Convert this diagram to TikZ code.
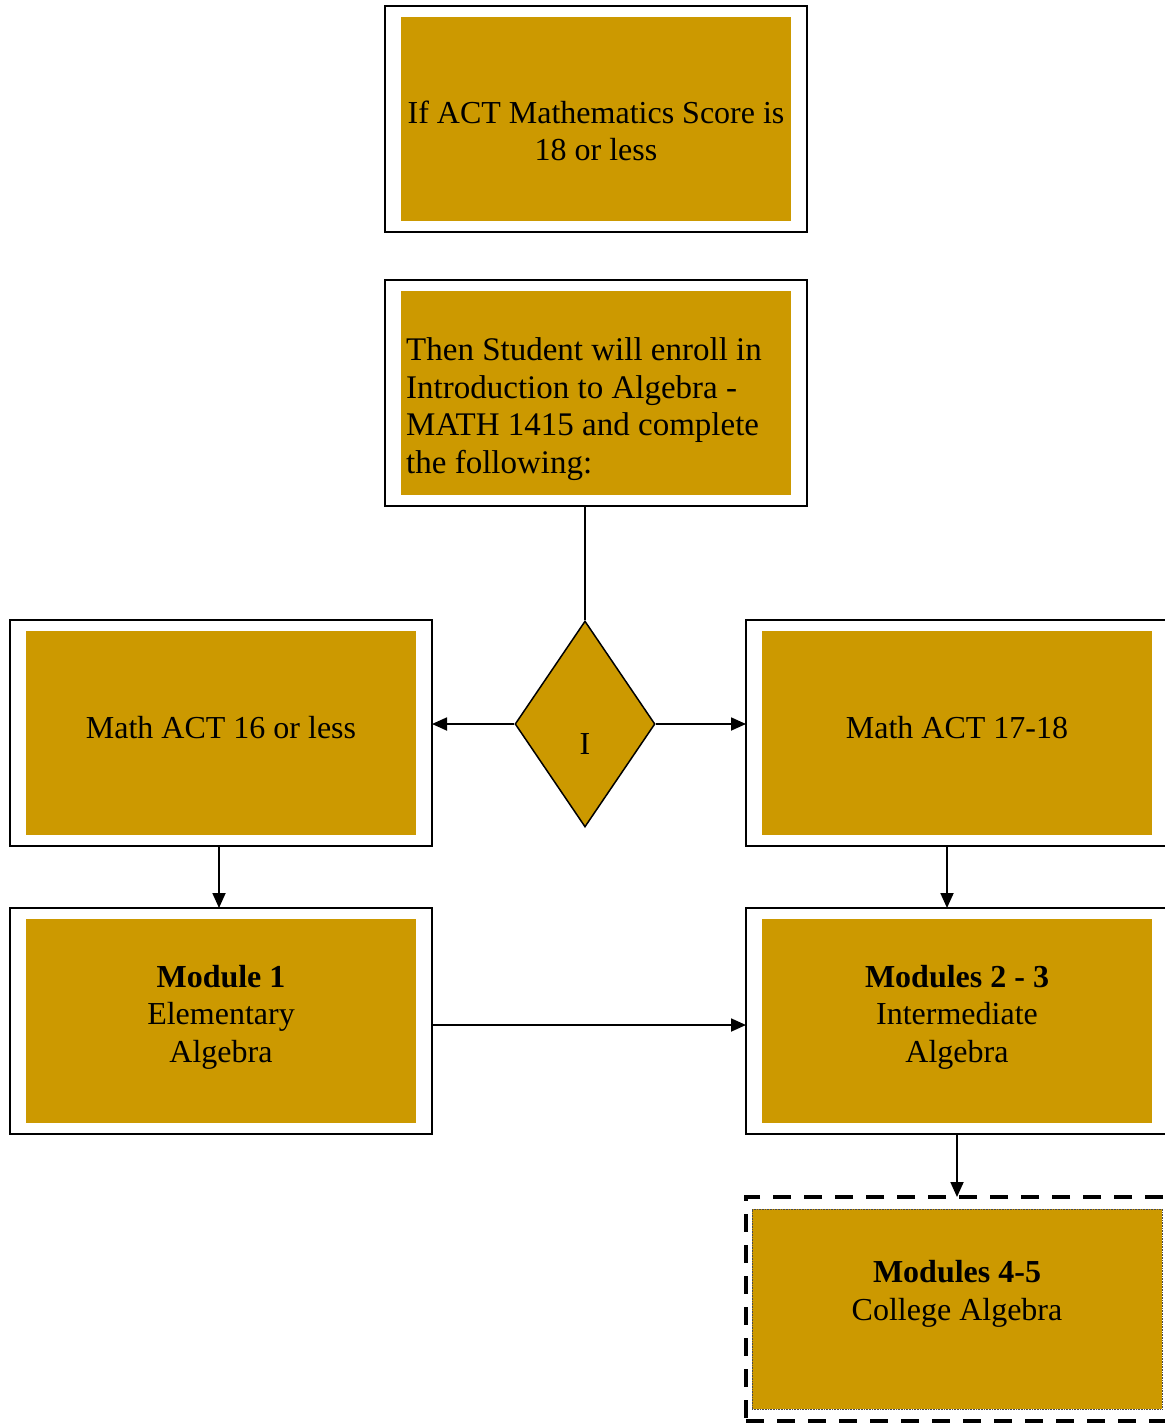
\documentclass[tikz,border=0pt]{standalone}
\usepackage{fontspec}
\setmainfont{Liberation Serif}
\usetikzlibrary{shapes.geometric,arrows.meta}
\definecolor{gold}{HTML}{CC9900}
\newcommand{\fs}{\fontsize{32pt}{37.5pt}\selectfont}
\tikzset{
  frame/.style={draw=black, line width=1.8pt, minimum width=422pt, minimum height=226pt, inner sep=0pt, outer sep=0pt},
  fillbox/.style={fill=gold, minimum width=390pt, minimum height=204pt, inner sep=0pt, outer sep=0pt},
  txt/.style={font=\fs, align=center, inner sep=0pt},
  arr/.style={line width=1.8pt, -{Triangle[length=15pt,width=13pt]}},
  conn/.style={line width=1.8pt},
}
\begin{document}
\begin{tikzpicture}[x=1pt,y=-1pt]
\useasboundingbox[fill=white] (0,0) rectangle (1164,1423);
% top
\node[frame] (f1) at (596,119) {};
\node[fillbox] (b1) at (596,119) {};
\node[txt] (t1) at (596,131) {If ACT Mathematics Score is\\18 or less};
% second
\node[frame] (f2) at (596,393) {};
\node[fillbox] (b2) at (596,393) {};
\node[txt, align=left, anchor=west, font=\fontsize{33pt}{37.5pt}\selectfont] (t2) at (406,409) {Then Student will enroll in\\Introduction to Algebra -\\MATH 1415 and complete\\the following:};
% diamond
\node[diamond, draw=black, line width=1.5pt, fill=gold, minimum width=140pt, minimum height=206pt, inner sep=0pt] (dia) at (585,724) {};
\node[txt] (ti) at (585,744) {I};
% left / right
\node[frame] (fL) at (221,733) {};
\node[fillbox] (bL) at (221,733) {};
\node[txt] (tL) at (221,728) {Math ACT 16 or less};
\node[frame] (fR) at (957,733) {};
\node[fillbox] (bR) at (957,733) {};
\node[txt] (tR) at (957,728) {Math ACT 17-18};
% modules
\node[frame] (fM1) at (221,1021) {};
\node[fillbox] (bM1) at (221,1021) {};
\node[txt] (tM1) at (221,1017) {\textbf{Module 1}\\Elementary\\Algebra};
\node[frame] (fM23) at (957,1021) {};
\node[fillbox] (bM23) at (957,1021) {};
\node[txt] (tM23) at (957,1017) {\textbf{Modules 2 - 3}\\Intermediate\\Algebra};
% dashed
\node[draw=black, line width=4pt, dash pattern=on 18pt off 13pt, minimum width=422pt, minimum height=224pt, inner sep=0pt, outer sep=0pt] (fD) at (957,1309) {};
\node[fill=gold, draw=black!70, line width=0.6pt, densely dotted, minimum width=410pt, minimum height=200pt, inner sep=0pt] (bD) at (957,1309) {};
\node[txt] (tD) at (957,1294) {\textbf{Modules 4-5}\\College Algebra};
% connectors
\draw[conn] (dia.north) -- (dia.north |- f2.south);
\draw[arr] (dia.west) -- (dia.west -| fL.east);
\draw[arr] (dia.east) -- (dia.east -| fR.west);
\draw[arr] ([xshift=-2pt]fL.south) -- ([xshift=-2pt]fM1.north);
\draw[arr] ([xshift=-10pt]fR.south) -- ([xshift=-10pt]fM23.north);
\draw[arr] ([yshift=-4pt]fM1.east) -- ([yshift=-4pt]fM23.west);
\draw[arr] (fM23.south) -- (fD.north);
\end{tikzpicture}
\end{document}
